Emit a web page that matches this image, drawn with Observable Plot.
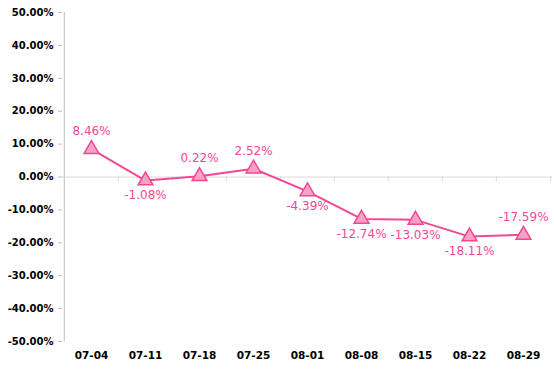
<!DOCTYPE html>
<html>
<head>
<meta charset="utf-8">
<script src="https://cdn.jsdelivr.net/npm/d3@7"></script>
<script src="https://cdn.jsdelivr.net/npm/@observablehq/plot@0.6"></script>
<style>
  html, body { margin: 0; padding: 0; background: #fff; }
  #chart svg { display: block; }
</style>
</head>
<body>
<div id="chart"></div>
<script>
const dates = ["07-04", "07-11", "07-18", "07-25", "08-01", "08-08", "08-15", "08-22", "08-29"];
const values = [8.46, -1.08, 0.22, 2.52, -4.39, -12.74, -13.03, -18.11, -17.59];
const labelSide = ["above", "below", "above", "above", "below", "below", "below", "below", "above"];
const yTicks = [-50, -40, -30, -20, -10, 0, 10, 20, 30, 40, 50];

const data = dates.map((d, i) => ({date: d, value: values[i], side: labelSide[i]}));

const W = 554, H = 384, mL = 62, mR = 2;
const bw = (W - mL - mR) / dates.length;
const pink = "#EF4894";
const font = "DejaVu Sans, sans-serif";

const chart = Plot.plot({
  width: W,
  height: H,
  marginLeft: mL,
  marginRight: mR,
  marginTop: 12,
  marginBottom: 43,
  style: {fontFamily: font, background: "#fff"},
  x: {type: "band", domain: dates, paddingInner: 0, paddingOuter: 0, align: 0.5},
  y: {domain: [-50, 50]},
  marks: [
    Plot.ruleY([0], {stroke: "#d9d9d9", strokeWidth: 1}),
    Plot.ruleX(dates.slice(1), {x: d => d, y1: 0, y2: -1.5, dx: -bw / 2, stroke: "#d9d9d9"}),
    Plot.ruleX([dates[dates.length - 1]], {x: d => d, y1: 0, y2: -1.5, dx: bw / 2, stroke: "#d9d9d9"}),
    Plot.axisY({
      ticks: yTicks,
      tickFormat: d => d.toFixed(2) + "%",
      tickSize: 4,
      tickPadding: 5,
      stroke: "#bfbfbf",
      fill: "#000",
      fontSize: 10,
      fontWeight: "bold",
      label: null
    }),
    Plot.ruleX([0], {x: () => dates[0], dx: -bw / 2, y1: -50, y2: 50, stroke: "#bfbfbf"}),
    Plot.axisX({
      tickSize: 0,
      tickPadding: 10,
      fill: "#000",
      fontSize: 10.5,
      fontWeight: "bold",
      label: null
    }),
    Plot.line(data, {x: "date", y: "value", stroke: pink, strokeWidth: 2}),
    Plot.dot(data, {x: "date", y: "value", symbol: "triangle", r: 5.5, fill: "#F6A2C6", stroke: pink, strokeWidth: 1.5}),
    Plot.text(data.filter(d => d.side === "above"), {
      x: "date", y: "value", text: d => d.value.toFixed(2) + "%",
      dy: -18, fill: pink, fontSize: 12
    }),
    Plot.text(data.filter(d => d.side === "below"), {
      x: "date", y: "value", text: d => d.value.toFixed(2) + "%",
      dy: 15, fill: pink, fontSize: 12
    })
  ]
});
document.getElementById("chart").appendChild(chart);
</script>
</body>
</html>
